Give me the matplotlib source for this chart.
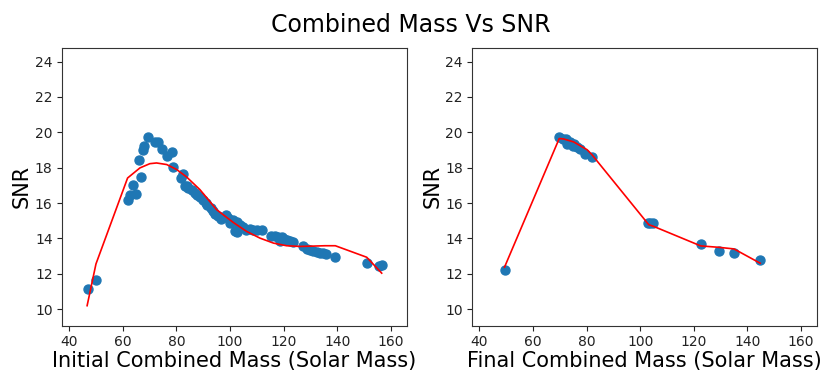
import matplotlib
matplotlib.use("Agg")
import matplotlib.pyplot as plt

# Left panel: initial combined mass vs SNR (scatter)
init_mass = [47.1, 50.2, 61.8, 62.6, 64.9, 63.7, 66.8, 65.9, 67.6, 67.9, 69.6, 72.0, 73.0,
             74.5, 76.4, 78.2, 78.6, 81.6, 82.6, 83.8,
             83.2, 84.4, 85.7, 86.9, 87.8, 88.8, 89.8, 90.9, 91.3, 93.1, 93.8, 94.4, 95.6, 96.5,
             98.7, 99.4, 100.0, 101.2, 102.5, 103.7, 105.0, 101.9, 102.7, 106.0, 107.5, 108.7,
             110.0, 112.0, 115.2, 116.8, 118.0, 119.3, 120.1, 121.1, 122.4, 123.6, 118.7,
             127.4, 128.6, 129.9, 131.1, 132.4, 133.6, 134.8, 135.7, 139.3, 151.0, 155.7, 156.6]
init_snr = [11.15, 11.66, 16.15, 16.48, 16.50, 17.04, 17.46, 18.46, 19.03, 19.25, 19.72, 19.46, 19.44,
            19.08, 18.69, 18.90, 18.04, 17.42, 17.67, 16.95,
            16.98, 16.85, 16.72, 16.57, 16.44, 16.34, 16.19, 16.00, 15.87, 15.72, 15.53, 15.40, 15.25, 15.12,
            15.34, 15.15, 14.87, 15.06, 14.91, 14.78, 14.65, 14.40, 14.34, 14.46, 14.53, 14.46,
            14.49, 14.46, 14.16, 14.16, 14.09, 14.09, 13.98, 13.94, 13.85, 13.79, 13.85,
            13.55, 13.40, 13.36, 13.30, 13.22, 13.20, 13.17, 13.13, 12.94, 12.64, 12.45, 12.49]

# Left panel fitted curve
init_fit_mass = [46.7, 50.0, 61.8, 66.4, 70.1, 72.6, 76.4, 80.1, 83.8, 88.8, 95.0, 101.2, 106.2,
                 111.2, 116.2, 121.1, 126.1, 131.1, 135.4, 139.3, 151.0, 156.6]
init_fit_snr = [10.2, 12.56, 17.42, 17.99, 18.23, 18.27, 18.18, 17.90, 17.48, 16.76, 15.63, 14.91, 14.40,
                14.02, 13.74, 13.59, 13.55, 13.57, 13.59, 13.59, 12.94, 12.04]

# Right panel: final combined mass vs SNR (scatter)
final_mass = [49.4, 69.8, 71.2, 72.4, 72.7, 73.9, 75.2, 74.9, 76.4, 77.4, 79.5, 82.0,
              102.8, 103.8, 104.9, 122.6, 129.4, 135.0, 144.8]
final_snr = [12.19, 19.74, 19.63, 19.65, 19.34, 19.44, 19.36, 19.21, 19.18, 19.06, 18.80, 18.61,
             14.90, 14.90, 14.90, 13.70, 13.32, 13.17, 12.79]

# Right panel fitted curve
final_fit_mass = [49.4, 69.8, 71.4, 75.2, 80.2, 82.0, 103.2, 105.1, 122.6, 129.4, 135.0, 144.8]
final_fit_snr = [12.38, 19.65, 19.63, 19.46, 19.02, 18.74, 14.78, 14.68, 13.58, 13.50, 13.41, 12.60]

xticks = [40, 60, 80, 100, 120, 140, 160]
yticks = [10, 12, 14, 16, 18, 20, 22, 24]

fig = plt.figure(figsize=(8.22, 3.72), dpi=100)
ax1 = fig.add_axes([0.075, 0.125, 0.42, 0.745])
ax2 = fig.add_axes([0.574, 0.125, 0.42, 0.745])

for ax, xs, ys, fx, fy, xl in [
    (ax1, init_mass, init_snr, init_fit_mass, init_fit_snr, "Initial Combined Mass (Solar Mass)"),
    (ax2, final_mass, final_snr, final_fit_mass, final_fit_snr, "Final Combined Mass (Solar Mass)"),
]:
    ax.scatter(xs, ys, s=42, color="#1f77b4", zorder=2)
    ax.plot(fx, fy, color="red", lw=1.2, zorder=3)
    ax.set_xlim(37.2, 166.0)
    ax.set_ylim(9.08, 24.75)
    ax.set_xticks(xticks)
    ax.set_yticks(yticks)
    ax.tick_params(labelsize=10, pad=3, colors="#222222", labelcolor="#222222")
    ax.set_xlabel(xl, fontsize=15, labelpad=2)
    ax.set_ylabel("SNR", fontsize=15, labelpad=2)
    for sp in ax.spines.values():
        sp.set_color("#333333")

fig.suptitle("Combined Mass Vs SNR", fontsize=17, y=0.965)
fig.savefig("out.png", dpi=100)
